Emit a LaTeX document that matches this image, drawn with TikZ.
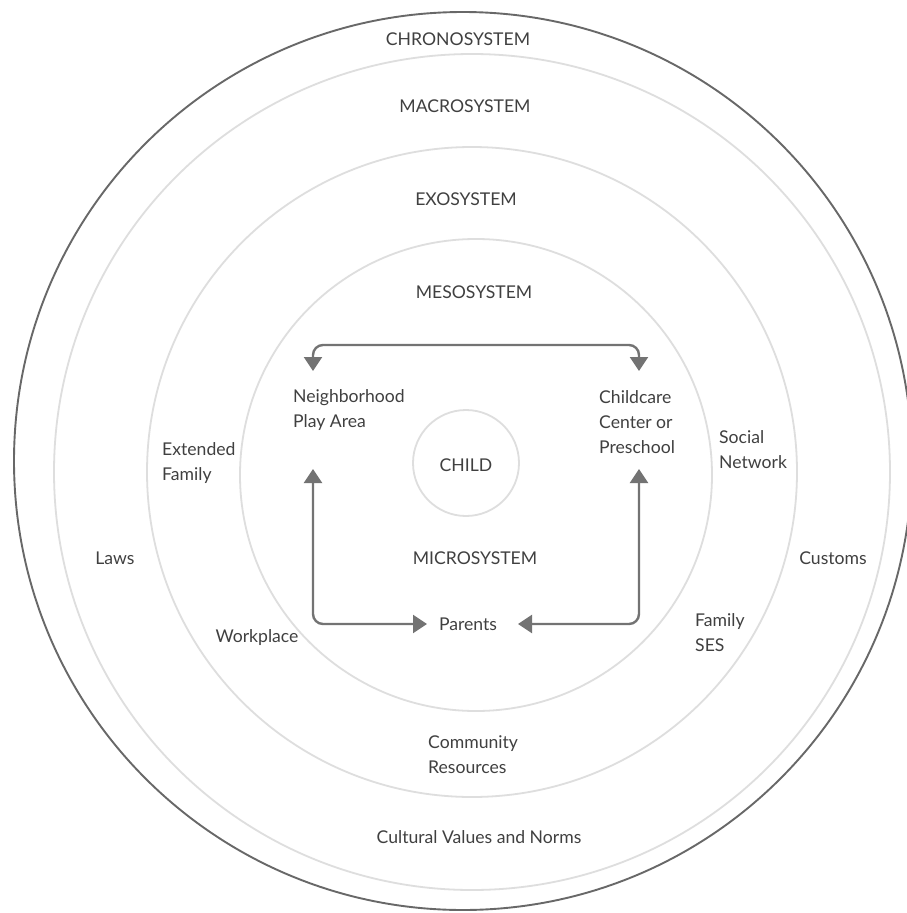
\documentclass[tikz,border=0pt]{standalone}
\usepackage{fontspec}
\setmainfont{Lato}
\usetikzlibrary{arrows.meta}
\definecolor{ringgray}{HTML}{DEDEDE}
\definecolor{outergray}{HTML}{686868}
\definecolor{linkgray}{HTML}{737373}
\definecolor{textgray}{HTML}{404040}
\begin{document}
\begin{tikzpicture}[x=1pt,y=-1pt,
  >={Triangle[width=18pt,length=14pt]},
  ring/.style={draw=ringgray, line width=1.8pt},
  txt/.style={text=textgray, font=\fontsize{17.6}{25}\selectfont, inner sep=0pt, align=left},
  link/.style={draw=linkgray, line width=2.4pt, rounded corners=10pt, <->}]
  % canvas
  \useasboundingbox (0,0) rectangle (906,913);
  \fill[white] (0,0) rectangle (906,913);

  % nested systems
  \draw[draw=outergray, line width=1.9pt] (463,461) circle[radius=449];
  \draw[ring] (472,472) circle[radius=418];
  \draw[ring] (472,472) circle[radius=325];
  \draw[ring] (476,475) circle[radius=236];
  \draw[ring] (466,463) circle[radius=53];

  % system names
  \node[txt] (chrono) at (458,39) {CHRONOSYSTEM};
  \node[txt] (macro) at (465,106) {MACROSYSTEM};
  \node[txt] (exo) at (466,199) {EXOSYSTEM};
  \node[txt] (meso) at (474,292) {MESOSYSTEM};
  \node[txt] (child) at (466,465) {CHILD};
  \node[txt] (micro) at (475,558) {MICROSYSTEM};

  % settings
  \node[txt, anchor=west] (nb) at (293,410) {Neighborhood\\Play Area};
  \node[txt, anchor=west] (cc) at (599,422) {Childcare\\Center or\\Preschool};
  \node[txt] (pa) at (468,624) {Parents};
  \node[txt, anchor=west] (ext) at (162,463) {Extended\\Family};
  \node[txt, anchor=west] (soc) at (719,450) {Social\\Network};
  \node[txt] (work) at (257,638) {Workplace};
  \node[txt, anchor=west] (ses) at (695,633) {Family\\SES};
  \node[txt, anchor=west] (com) at (428,755) {Community\\Resources};
  \node[txt] (laws) at (115,558) {Laws};
  \node[txt] (cust) at (833,558) {Customs};
  \node[txt] (cult) at (479,837) {Cultural Values and Norms};

  % connector end points beside the settings
  \coordinate (nbin) at (313,371);
  \coordinate (ccin) at (639,371);
  \coordinate (nbout) at (313,469);
  \coordinate (ccout) at (639,469);
  \coordinate (paw) at (427,624);
  \coordinate (pae) at (518,624);
  \coordinate (bar) at (476,345);

  % links between settings
  \draw[link] (nbin) -- (nbin |- bar) -- (ccin |- bar) -- (ccin);
  \draw[link] (nbout) |- (paw);
  \draw[link] (ccout) |- (pae);
\end{tikzpicture}
\end{document}
